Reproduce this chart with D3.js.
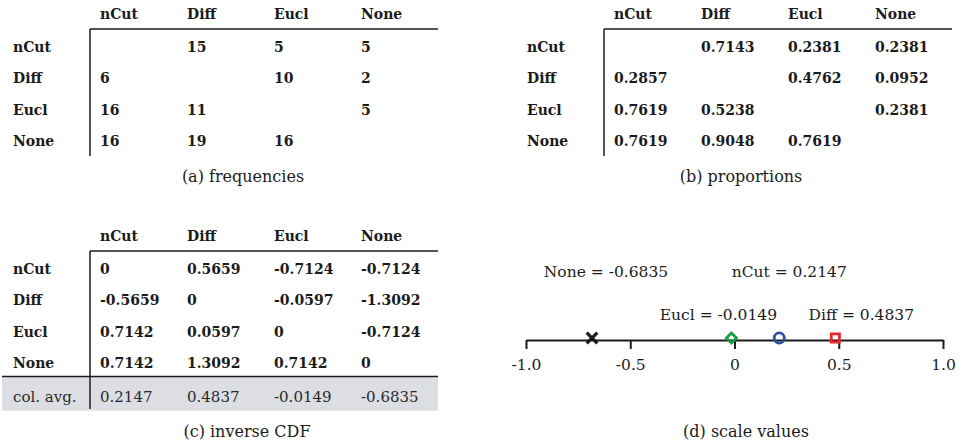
<!DOCTYPE html>
<html>
<head>
<meta charset="utf-8">
<script src="https://cdn.jsdelivr.net/npm/d3@7.9.0/dist/d3.min.js"></script>
<style>
  body { margin: 0; background: #fff; }
  svg { display: block; font-family: "DejaVu Serif", serif; }
</style>
</head>
<body>
<svg id="chart" width="963" height="447"></svg>
<script>
// method names (rows and columns of every table)
const methods = ["nCut", "Diff", "Eucl", "None"];

// (a) how often the row method was preferred over the column method
const frequencies = [
  [null, 15, 5, 5],
  [6, null, 10, 2],
  [16, 11, null, 5],
  [16, 19, 16, null]
];

// (b) proportions
const proportions = [
  [null, "0.7143", "0.2381", "0.2381"],
  ["0.2857", null, "0.4762", "0.0952"],
  ["0.7619", "0.5238", null, "0.2381"],
  ["0.7619", "0.9048", "0.7619", null]
];

// (c) inverse CDF, plus column averages
const inverseCdf = [
  ["0", "0.5659", "-0.7124", "-0.7124"],
  ["-0.5659", "0", "-0.0597", "-1.3092"],
  ["0.7142", "0.0597", "0", "-0.7124"],
  ["0.7142", "1.3092", "0.7142", "0"]
];
const colAvg = ["0.2147", "0.4837", "-0.0149", "-0.6835"];

// (d) scale values
const scaleNames = ["None", "nCut", "Eucl", "Diff"];
const scaleValues = [-0.6835, 0.2147, -0.0149, 0.4837];
const scaleTicks = [-1, -0.5, 0, 0.5, 1];
const scaleTickLabels = ["-1.0", "-0.5", "0", "0.5", "1.0"];

const ink = "#1b1b1b";
const svg = d3.select("#chart");

// Draw one table with header row, row labels and a corner rule
function drawTable(x0, top, matrix, caption, captionX, avgRow) {
  const g = svg.append("g");
  const lineX = x0 + 77;
  const nRows = methods.length + (avgRow ? 1 : 0);

  const col = d3.scaleBand().domain(methods).range([x0 + 87, x0 + 87 + 4 * 87]);
  const row = d3.scaleBand().domain(d3.range(nRows)).range([top, top + nRows * 31.4]);

  if (avgRow) {
    const yb = row(4);
    g.append("rect")
      .attr("x", 2).attr("y", yb)
      .attr("width", x0 + 425 - 2).attr("height", 34)
      .attr("fill", "#dcdee3");
    g.append("line")
      .attr("x1", 2).attr("x2", x0 + 425)
      .attr("y1", yb).attr("y2", yb)
      .attr("stroke", ink).attr("stroke-width", 1.5);
  }

  // header rule + vertical rule
  g.append("line")
    .attr("x1", lineX).attr("x2", x0 + 425)
    .attr("y1", top).attr("y2", top)
    .attr("stroke", ink).attr("stroke-width", 1.5);
  g.append("line")
    .attr("x1", lineX).attr("x2", lineX)
    .attr("y1", top).attr("y2", avgRow ? top + 158 : top + 127)
    .attr("stroke", ink).attr("stroke-width", 1.5);

  // column headers
  g.selectAll("text.head")
    .data(methods)
    .join("text")
    .attr("class", "head")
    .attr("x", d => col(d))
    .attr("y", top - 10)
    .attr("font-size", 14)
    .attr("font-weight", "bold")
    .attr("fill", ink)
    .text(d => d);

  // row labels
  g.selectAll("text.rowlab")
    .data(methods)
    .join("text")
    .attr("class", "rowlab")
    .attr("x", x0)
    .attr("y", (d, i) => row(i) + 23)
    .attr("font-size", 14)
    .attr("font-weight", "bold")
    .attr("fill", ink)
    .text(d => d);

  // cells
  const cells = [];
  matrix.forEach((r, i) => r.forEach((v, j) => {
    if (v !== null) cells.push({ i, j, v });
  }));
  g.selectAll("text.cell")
    .data(cells)
    .join("text")
    .attr("class", "cell")
    .attr("x", d => col(methods[d.j]))
    .attr("y", d => row(d.i) + 23)
    .attr("font-size", 14)
    .attr("font-weight", "bold")
    .attr("fill", ink)
    .text(d => d.v);

  if (avgRow) {
    g.append("text")
      .attr("x", x0)
      .attr("y", row(4) + 25)
      .attr("font-size", 15)
      .attr("fill", "#2a2a2a")
      .text("col. avg.");
    g.selectAll("text.avg")
      .data(avgRow)
      .join("text")
      .attr("class", "avg")
      .attr("x", (d, j) => col(methods[j]))
      .attr("y", row(4) + 25)
      .attr("font-size", 15)
      .attr("fill", "#2a2a2a")
      .text(d => d);
  }

  g.append("text")
    .attr("x", captionX)
    .attr("y", avgRow ? top + 186 : top + 153)
    .attr("text-anchor", "middle")
    .attr("font-size", 16)
    .attr("fill", ink)
    .text(caption);
}

drawTable(13, 29, frequencies, "(a) frequencies", 243, null);
drawTable(527, 29, proportions, "(b) proportions", 741, null);
drawTable(13, 251, inverseCdf, "(c) inverse CDF", 247, colAvg);

// (d) scale values on a number line
const x = d3.scaleLinear().domain([-1, 1]).range([526, 943]);
const lineY = 340;

const axis = svg.append("g")
  .attr("transform", `translate(0,${lineY})`)
  .call(d3.axisBottom(x)
    .tickValues(scaleTicks)
    .tickFormat((d, i) => scaleTickLabels[i])
    .tickSize(9)
    .tickSizeOuter(0)
    .tickPadding(10));
axis.select(".domain").attr("stroke", ink).attr("stroke-width", 2);
axis.selectAll(".tick line").attr("stroke", ink).attr("stroke-width", 2);
axis.selectAll(".tick text")
  .attr("font-family", "DejaVu Serif, serif")
  .attr("font-size", 15.5)
  .attr("fill", ink);

const markerStyle = {
  None: { type: d3.symbolTimes, size: 75, color: "#1b1b1b", width: 3.2 },
  nCut: { type: d3.symbolCircle, size: 80, color: "#2f4fa2", width: 2.8 },
  Eucl: { type: d3.symbolDiamond2, size: 64, color: "#16a040", width: 2.8 },
  Diff: { type: d3.symbolSquare2, size: 85, color: "#e8262e", width: 2.8 }
};
// label placement relative to each marker
const labelLayout = {
  None: { dx: 14, y: 277 },
  nCut: { dx: 10, y: 277 },
  Eucl: { dx: -13, y: 320 },
  Diff: { dx: 26, y: 320 }
};

// plain hyphen minus, as in the tables
const fmt = v => d3.format(".4f")(v).replace("\u2212", "-");

svg.selectAll("path.marker")
  .data(scaleNames)
  .join("path")
  .attr("class", "marker")
  .attr("transform", (d, i) => `translate(${x(scaleValues[i])},${lineY - 2})`)
  .attr("d", d => d3.symbol(markerStyle[d].type, markerStyle[d].size)())
  .attr("fill", "none")
  .attr("stroke", d => markerStyle[d].color)
  .attr("stroke-width", d => markerStyle[d].width);

svg.selectAll("text.scalelab")
  .data(scaleNames)
  .join("text")
  .attr("class", "scalelab")
  .attr("x", (d, i) => x(scaleValues[i]) + labelLayout[d].dx)
  .attr("y", d => labelLayout[d].y)
  .attr("text-anchor", "middle")
  .attr("font-size", 15.5)
  .attr("fill", ink)
  .text((d, i) => `${d} = ${fmt(scaleValues[i])}`);

svg.append("text")
  .attr("x", 746)
  .attr("y", 437)
  .attr("text-anchor", "middle")
  .attr("font-size", 16)
  .attr("fill", ink)
  .text("(d) scale values");
</script>
</body>
</html>
